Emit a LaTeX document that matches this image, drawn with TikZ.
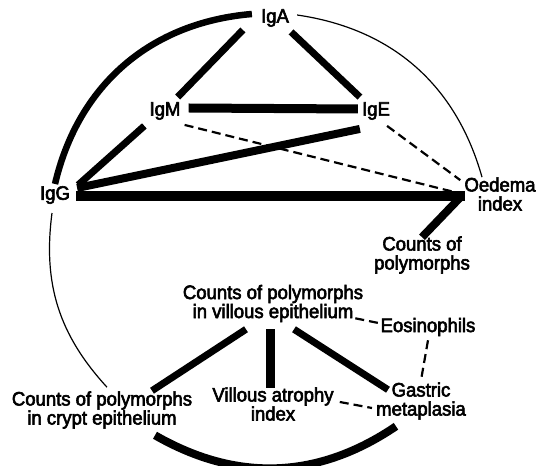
\documentclass[tikz,border=0pt]{standalone}
\usepackage{fontspec}
\setmainfont{Liberation Sans}[FakeBold=3,FakeStretch=0.95]

\tikzset{
	corr/.style={line width=7pt},
	corrheavy/.style={line width=10pt},
	corrthin/.style={line width=1.2pt},
	corrdash/.style={line width=2.2pt, dash pattern=on 9pt off 5pt},
}

\begin{document}
\begin{tikzpicture}[x=1pt,y=1pt]
	\useasboundingbox (0,0) rectangle (536,466);
	\begin{scope}[every node/.style={inner sep=2pt, align=center, font=\fontsize{19.5}{19}\selectfont}]
		\node (IgA) at (275,448) {IgA};
		\node (IgM) at (165,355) {IgM};
		\node (IgE) at (376,355) {IgE};
		\node (IgG) at (55,271) {IgG};
		\node (Oed) at (500,272) {Oedema\\index};
		\node (polym) at (422,211) {Counts of\\polymorphs};
		\node (villous) at (273,162.5) {Counts of polymorphs\\in villous epithelium};
		\node (Eos) at (428,139) {Eosinophils};
		\node (crypt) at (102,56) {Counts of polymorphs\\in crypt epithelium};
		\node (atrophy) at (273,62) {Villous atrophy\\index};
		\node (gastric) at (421,65) {Gastric\\metaplasia};
	\end{scope}
	
	% outer ring
	\draw[corr, line width=6.5pt] ([shift={(-7,4)}]IgA.west) to[bend right=36] (IgG.north);
	\draw[corrthin] ([shift={(6,3)}]IgA.east) to[bend left=33] ([shift={(-18,-2)}]Oed.north);
	\draw[corrthin] ([shift={(-3,-7)}]IgG.south) to[bend right=25] ([shift={(5,2)}]crypt.north);
	\draw[corr, line width=8pt] ([shift={(53,-4.5)}]crypt.south) to[bend right=32] ([shift={(-25,-4.5)}]gastric.south);
	
	% immunoglobulins
	\draw[corr] ([shift={(-16,-1)}]IgA.south west) -- ([shift={(-5,3)}]IgM.north east);
	\draw[corr] ([shift={(0,-3)}]IgA.south east) -- ([shift={(0,3)}]IgE.north west);
	\draw[corr, line width=9pt] ([shift={(6,3)}]IgM.east) -- ([shift={(-2,2)}]IgE.west);
	\draw[corr] ([shift={(6,-1)}]IgG.north east) -- ([shift={(-3,-4)}]IgM.south west);
	\draw[corr, line width=8pt] ([shift={(5,7)}]IgG.east) -- ([shift={(0,-7)}]IgE.south west);
	\draw[corrheavy] ([shift={(4,-1)}]IgG.east) -- ([shift={(3,-2)}]Oed.west);
	\draw[corrdash] ([shift={(2,-3)}]IgM.south east) -- (Oed.west);
	\draw[corrdash] ([shift={(-5,-4)}]IgE.south east) -- ([shift={(-2,-5)}]Oed.north west);
	\draw[corr, line width=8pt] ([shift={(-2,15.5)}]Oed.south west) -- ([shift={(0,-3)}]polym.north);
	
	% polymorph counts
	\draw[corr] ([shift={(-27,-5)}]villous.south) -- ([shift={(50,-1.5)}]crypt.north);
	\draw[corr, line width=9pt] ([shift={(-3,-5)}]villous.south) -- ([shift={(-3,-2.5)}]atrophy.north);
	\draw[corr] ([shift={(21,-5)}]villous.south) -- ([shift={(14,-9.5)}]gastric.north west);
	\draw[corrdash] ([shift={(-10,6)}]villous.south east) -- ([shift={(0,4)}]Eos.west);
	\draw[corrdash] ([shift={(0,-2)}]Eos.south) -- (gastric.north);
	\draw[corrdash] ([shift={(4,2)}]atrophy.east) -- ([shift={(-2,-7)}]gastric.west);
\end{tikzpicture}
\end{document}
